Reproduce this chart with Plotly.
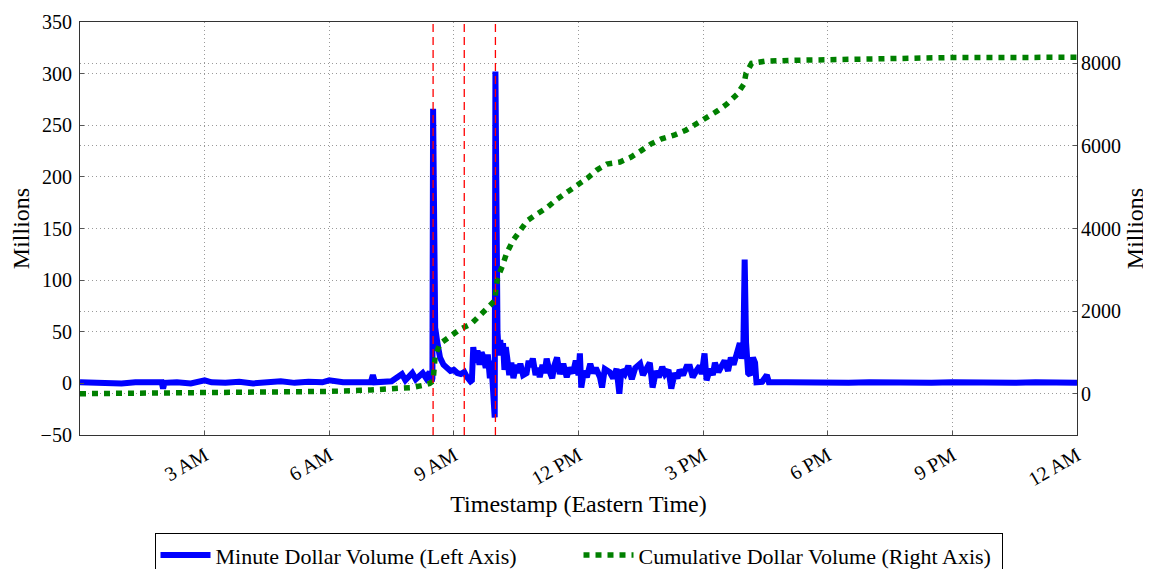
import pandas as pd
import plotly.graph_objects as go

# minute dollar volume, millions (left axis)
minute_times = ["00:00", "00:20", "00:40", "01:00", "01:20", "01:40", "01:58", "02:00", "02:02", "02:20",
                "02:40", "03:00", "03:10", "03:30", "03:50", "04:10", "04:30", "04:50", "05:10", "05:30",
                "05:50", "06:00", "06:20", "06:40", "07:00", "07:03", "07:06", "07:30", "07:45", "07:50",
                "08:00", "08:05", "08:15", "08:20", "08:25", "08:28", "08:29", "08:30", "08:31", "08:33",
                "08:36", "08:40", "08:45", "08:50", "08:55", "09:00", "09:05", "09:10", "09:15", "09:19",
                "09:24", "09:26", "09:28", "09:31", "09:34", "09:37", "09:40", "09:43", "09:46", "09:49",
                "09:52", "09:54", "09:56", "09:58", "09:59", "10:00", "10:01", "10:02", "10:03", "10:05",
                "10:07", "10:09", "10:11", "10:13", "10:15", "10:17", "10:20", "10:23", "10:26", "10:30",
                "10:33", "10:36", "10:40", "10:45", "10:48", "10:50", "10:54", "10:58", "11:01", "11:04",
                "11:08", "11:11", "11:14", "11:18", "11:22", "11:25", "11:29", "11:33", "11:38", "11:43",
                "11:47", "11:52", "11:56", "12:00", "12:02", "12:04", "12:08", "12:12", "12:17", "12:21",
                "12:25", "12:31", "12:34", "12:38", "12:45", "12:50", "12:55", "12:59", "13:02", "13:07",
                "13:12", "13:17", "13:22", "13:29", "13:33", "13:38", "13:43", "13:47", "13:52", "13:56",
                "14:01", "14:05", "14:10", "14:14", "14:19", "14:23", "14:26", "14:31", "14:36", "14:41",
                "14:45", "14:50", "14:55", "14:58", "15:02", "15:05", "15:10", "15:14", "15:17", "15:22",
                "15:27", "15:31", "15:36", "15:40", "15:44", "15:48", "15:53", "15:56", "15:58", "16:00",
                "16:02", "16:05", "16:08", "16:12", "16:15", "16:17", "16:25", "16:32", "16:35", "17:00",
                "17:30", "18:00", "18:30", "19:00", "19:30", "20:00", "20:30", "21:00", "21:30", "22:00",
                "22:30", "23:00", "23:30", "24:00"]
minute_vals = [1, 0.5, 1, 0, 1, 0.5, 1, -5, 0.5, 1,
               0, 3, 1, 0.5, 1.5, 0, 1, 2, 0.5, 1.5,
               1, 3, 1, 0.5, 1, 8, 1, 2, 9, 3,
               10, 4, 10, 5, 11, 2, 5, 266, 80, 54,
               40, 25, 18, 14, 12, 13, 10, 9, 11, 6,
               2, 3, 35, 20, 32, 18, 30, 25, 15, 28,
               5, 22, 0, -10, -33, 302, 150, 71, 50, 27,
               42, 27, 39, 13, 35, 25, 8, 20, 5, 18,
               10, 19, 8, 10, 22, 16, 24, 8, 15, 6,
               18, 10, 24, 12, 5, 17, 25, 9, 19, 6,
               15, 10, 22, 8, 29, -4, 12, 6, 19, 10,
               15, 6, -4, 14, 11, 5, 14, -10, 13, 9,
               17, 4, 15, 19, 8, 14, 20, -4, 12, 6,
               16, 9, 13, -5, 10, 5, 13, 8, 16, 16,
               6, 12, 17, 9, 29, 3, 14, 8, 20, 11,
               16, 22, 12, 25, 18, 28, 39, 24, 30, 120,
               40, 10, 8, 25, 20, 1, 1.5, 8, 1, 1,
               0.5, 1, 0.5, 1, 0.5, 1, 0.5, 1, 0.5, 1,
               0.5, 1, 0.5, 0.5]

# cumulative dollar volume, millions (right axis)
cum_times = ["00:00", "02:00", "04:00", "06:00", "07:00", "07:30", "08:00", "08:15", "08:25", "08:30",
             "08:31", "08:33", "08:40", "08:55", "09:10", "09:25", "09:40", "09:52", "09:59", "10:01",
             "10:03", "10:10", "10:16", "10:25", "10:35", "10:46", "11:00", "11:14", "11:29", "11:43",
             "11:58", "12:13", "12:27", "12:41", "13:00", "13:16", "13:30", "13:45", "14:00", "14:18",
             "14:35", "14:50", "15:05", "15:20", "15:34", "15:49", "15:59", "16:02", "16:10", "16:29",
             "17:05", "18:00", "19:30", "21:00", "24:00"]
cum_vals = [0, 15, 30, 55, 90, 115, 150, 200, 250, 310,
            600, 920, 1210, 1400, 1570, 1690, 1930, 2130, 2250, 2560,
            2800, 3090, 3390, 3700, 3950, 4190, 4350, 4500, 4710, 4860,
            5030, 5220, 5420, 5560, 5610, 5730, 5880, 6050, 6170, 6260,
            6380, 6530, 6670, 6840, 7010, 7250, 7500, 7760, 8000, 8050,
            8070, 8090, 8130, 8140, 8145]

event_times = ["08:30", "09:15", "10:00"]

tick_times = ["03:00", "06:00", "09:00", "12:00", "15:00", "18:00", "21:00", "24:00"]
tick_text = ["3 AM", "6 AM", "9 AM", "12 PM", "3 PM", "6 PM", "9 PM", "12 AM"]

day = pd.Timestamp("2015-08-24")


def stamp(ts):
    return [day + pd.to_timedelta(t + ":00") for t in ts]


FONT = "Liberation Serif, Times New Roman, serif"
GRID = dict(showgrid=True, gridcolor="#9a9a9a", griddash="1px,3px", gridwidth=1, automargin=False)

fig = go.Figure()
fig.add_trace(go.Scatter(x=stamp(minute_times), y=minute_vals, mode="lines",
                         name="Minute Dollar Volume (Left Axis)",
                         line=dict(color="#0000ff", width=6)))
fig.add_trace(go.Scatter(x=stamp(cum_times), y=cum_vals, mode="lines", yaxis="y2",
                         name="Cumulative Dollar Volume (Right Axis)",
                         line=dict(color="#008000", width=5.5, dash="6px,6px")))

for t in stamp(event_times):
    fig.add_shape(type="line", x0=t, x1=t, y0=0, y1=1, xref="x", yref="paper",
                  line=dict(color="#ff0000", width=1.3, dash="8px,5px"), layer="above")

# the page body adds an 8px offset, so margins are set 8px smaller on top/left
fig.update_layout(
    width=1143, height=590,
    margin=dict(l=72, r=74, t=14, b=163),
    paper_bgcolor="white", plot_bgcolor="white",
    font=dict(family=FONT, size=20, color="black"),
    xaxis=dict(range=[day, day + pd.Timedelta(days=1)], tickvals=stamp(tick_times), ticktext=tick_text,
               tickangle=-30, ticks="inside", ticklen=4, tickcolor="#555",
               showline=True, linecolor="#333", linewidth=1.2, mirror=True,
               title=dict(text="Timestamp (Eastern Time)", standoff=5), zeroline=False, **GRID),
    yaxis=dict(range=[-50, 350], tickvals=list(range(-50, 351, 50)), ticks="inside", ticklen=4,
               tickcolor="#555", showline=True, linecolor="#333", linewidth=1.2, mirror=True,
               ticklabelstandoff=3,
               title=dict(text="Millions", standoff=10), zeroline=False, **GRID),
    yaxis2=dict(range=[-1000, 9000], tickvals=[0, 2000, 4000, 6000, 8000], overlaying="y", side="right",
                ticks="inside", ticklen=4, tickcolor="#555", showline=False, ticklabelstandoff=3,
                title=dict(text="Millions", standoff=6), zeroline=False, **GRID),
    legend=dict(orientation="h", x=0.5, xanchor="center", y=-0.238, yanchor="top",
                bordercolor="black", borderwidth=1, bgcolor="white",
                font=dict(family=FONT, size=22), entrywidth=358, itemwidth=50),
    showlegend=True,
)

fig.write_html("out.html")
